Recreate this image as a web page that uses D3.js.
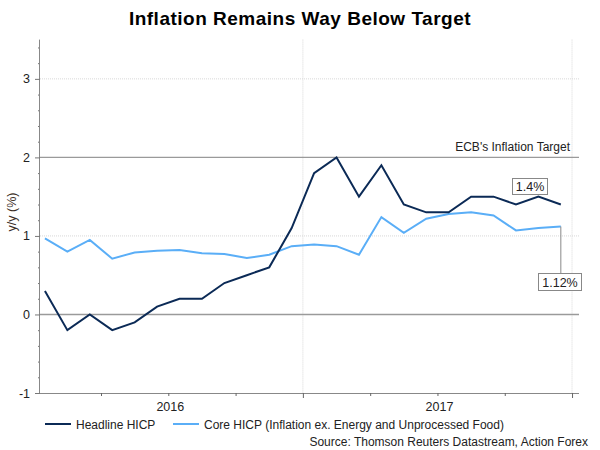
<!DOCTYPE html>
<html>
<head>
<meta charset="utf-8">
<script src="https://cdn.jsdelivr.net/npm/d3@7"></script>
<style>
  html, body { margin: 0; padding: 0; background: #fff; }
  svg { display: block; font-family: "Liberation Sans", Arial, sans-serif; }
</style>
</head>
<body>
<svg id="chart" width="600" height="450"></svg>
<script>
// ---- data (monthly, Jan 2016 .. Dec 2017) ----
const months = ["2016-01","2016-02","2016-03","2016-04","2016-05","2016-06","2016-07","2016-08","2016-09","2016-10","2016-11","2016-12",
                "2017-01","2017-02","2017-03","2017-04","2017-05","2017-06","2017-07","2017-08","2017-09","2017-10","2017-11","2017-12"];
const headline = [0.3,-0.2,0.0,-0.2,-0.1,0.1,0.2,0.2,0.4,0.5,0.6,1.1,
                  1.8,2.0,1.5,1.9,1.4,1.3,1.3,1.5,1.5,1.4,1.5,1.4];
const core = [0.97,0.80,0.95,0.71,0.79,0.81,0.82,0.78,0.77,0.72,0.76,0.87,
              0.89,0.87,0.76,1.24,1.04,1.22,1.28,1.30,1.26,1.07,1.10,1.12];
const yTicks = [-1,0,1,2,3];
const years = ["2016","2017"];
const seriesNames = ["Headline HICP","Core HICP (Inflation ex. Energy and Unprocessed Food)"];
const targetValue = 2;
const targetLabel = "ECB's Inflation Target";
const headlineLabel = "1.4%";
const coreLabel = "1.12%";
const title = "Inflation Remains Way Below Target";
const source = "Source: Thomson Reuters Datastream, Action Forex";

(function () {
const colHead = "#0b2a56";
const colCore = "#5aaef7";
const textCol = "#222";

const svg = d3.select("#chart");
const pLeft = 40, pRight = 579, pTop = 39.6, pBottom = 393;

// x: month index; year boundaries at index -0.5, 11.5, 23.5
const x = d3.scaleLinear().domain([-0.22, 23.81]).range([pLeft, pRight]);
const y = d3.scaleLinear().domain([-1, 3.5]).range([pBottom, pTop]);

// title
svg.append("text").attr("x", 300).attr("y", 25).attr("text-anchor", "middle")
  .attr("font-size", 19).attr("letter-spacing", 0.5).attr("font-weight", "bold")
  .attr("fill", "#000").text(title);

// horizontal grid
const g = svg.append("g");
[1, 3].forEach(v => {
  g.append("line").attr("x1", pLeft).attr("x2", pRight).attr("y1", y(v)).attr("y2", y(v))
    .attr("stroke", "#d8d8d8").attr("stroke-dasharray", "1,1");
});
// vertical grid at year boundaries
[11.5, 23.5].forEach(v => {
  g.append("line").attr("x1", x(v)).attr("x2", x(v)).attr("y1", pTop).attr("y2", pBottom)
    .attr("stroke", "#d8d8d8").attr("stroke-dasharray", "1,1");
});
[0, targetValue].forEach(v => {
  g.append("line").attr("x1", pLeft).attr("x2", pRight).attr("y1", y(v)).attr("y2", y(v))
    .attr("stroke", "#9a9a9a").attr("stroke-width", 1.4);
});

// y axis minor ticks
const minor = d3.range(-1, 3.51, 0.2).filter(v => Math.abs(v - Math.round(v)) > 1e-6);
svg.append("g").attr("transform", `translate(${pLeft},0)`)
  .call(d3.axisLeft(y).tickValues(minor).tickSize(2).tickFormat(""))
  .call(a => a.select(".domain").remove())
  .call(a => a.selectAll("line").attr("stroke", "#777"));
// y axis major
svg.append("g").attr("transform", `translate(${pLeft},0)`)
  .call(d3.axisLeft(y).tickValues(yTicks).tickSize(5).tickPadding(5).tickFormat(d => String(d)))
  .call(a => a.select(".domain").attr("stroke", "#888").attr("d", `M-0.5,${pTop}V${pBottom}`))
  .call(a => a.selectAll("line").attr("stroke", "#777"))
  .call(a => a.selectAll("text").attr("font-size", 12.5).attr("fill", textCol)
    .attr("font-family", "Liberation Sans, Arial, sans-serif"));

// x axis
const quarterTicks = d3.range(2.5, 24, 3);
svg.append("g").attr("transform", `translate(0,${pBottom})`)
  .call(d3.axisBottom(x).tickValues(quarterTicks).tickSize(3).tickFormat(""))
  .call(a => a.select(".domain").attr("stroke", "#888").attr("d", `M${pLeft},0.5H${pRight}`))
  .call(a => a.selectAll(".tick line").attr("stroke", "#666")
    .attr("y2", d => (d === 11.5 || d === 23.5) ? 5 : 3));
years.forEach((yr, i) => {
  svg.append("text").attr("x", x(i * 12 + 5.5) + 2).attr("y", 411).attr("text-anchor", "middle")
    .attr("font-size", 12.5).attr("fill", textCol).text(yr);
});

// y label
svg.append("text").attr("transform", "translate(16,212) rotate(-90)").attr("text-anchor", "middle")
  .attr("font-size", 12.5).attr("fill", "#3a2e26").text("y/y (%)");

// target label
svg.append("text").attr("x", 570).attr("y", 151).attr("text-anchor", "end")
  .attr("font-size", 12).attr("fill", textCol).text(targetLabel);

// lines
const line = d3.line().x((d, i) => x(i)).y(d => y(d));
svg.append("path").datum(core).attr("d", line).attr("fill", "none")
  .attr("stroke", colCore).attr("stroke-width", 2);
svg.append("path").datum(headline).attr("d", line).attr("fill", "none")
  .attr("stroke", colHead).attr("stroke-width", 2);

// value labels
const last = headline.length - 1;
// 1.12% callout
svg.append("line").attr("x1", x(last)).attr("x2", x(last))
  .attr("y1", y(core[last])).attr("y2", 273).attr("stroke", "#888").attr("stroke-width", 1);
svg.append("rect").attr("x", 538.5).attr("y", 273.5).attr("width", 43).attr("height", 17)
  .attr("fill", "#fff").attr("stroke", "#888");
svg.append("text").attr("x", 560).attr("y", 286.5).attr("text-anchor", "middle")
  .attr("font-size", 12.5).attr("fill", textCol).text(coreLabel);
// 1.4% callout
svg.append("rect").attr("x", 512.5).attr("y", 178.5).attr("width", 35).attr("height", 16)
  .attr("fill", "#fff").attr("stroke", "#888");
svg.append("text").attr("x", 530).attr("y", 191).attr("text-anchor", "middle")
  .attr("font-size", 12.5).attr("fill", textCol).text(headlineLabel);

// legend
const lg = svg.append("g");
[[colHead, 45, 71, 76], [colCore, 173, 199, 204]].forEach((c, i) => {
  lg.append("line").attr("x1", c[1]).attr("x2", c[2]).attr("y1", 424).attr("y2", 424)
    .attr("stroke", c[0]).attr("stroke-width", 2);
  lg.append("text").attr("x", c[3]).attr("y", 428.5).attr("font-size", 12)
    .attr("fill", textCol).text(seriesNames[i]);
});
svg.append("text").attr("x", 588).attr("y", 446).attr("text-anchor", "end")
  .attr("font-size", 12).attr("fill", textCol).text(source);
})();
</script>
</body>
</html>
